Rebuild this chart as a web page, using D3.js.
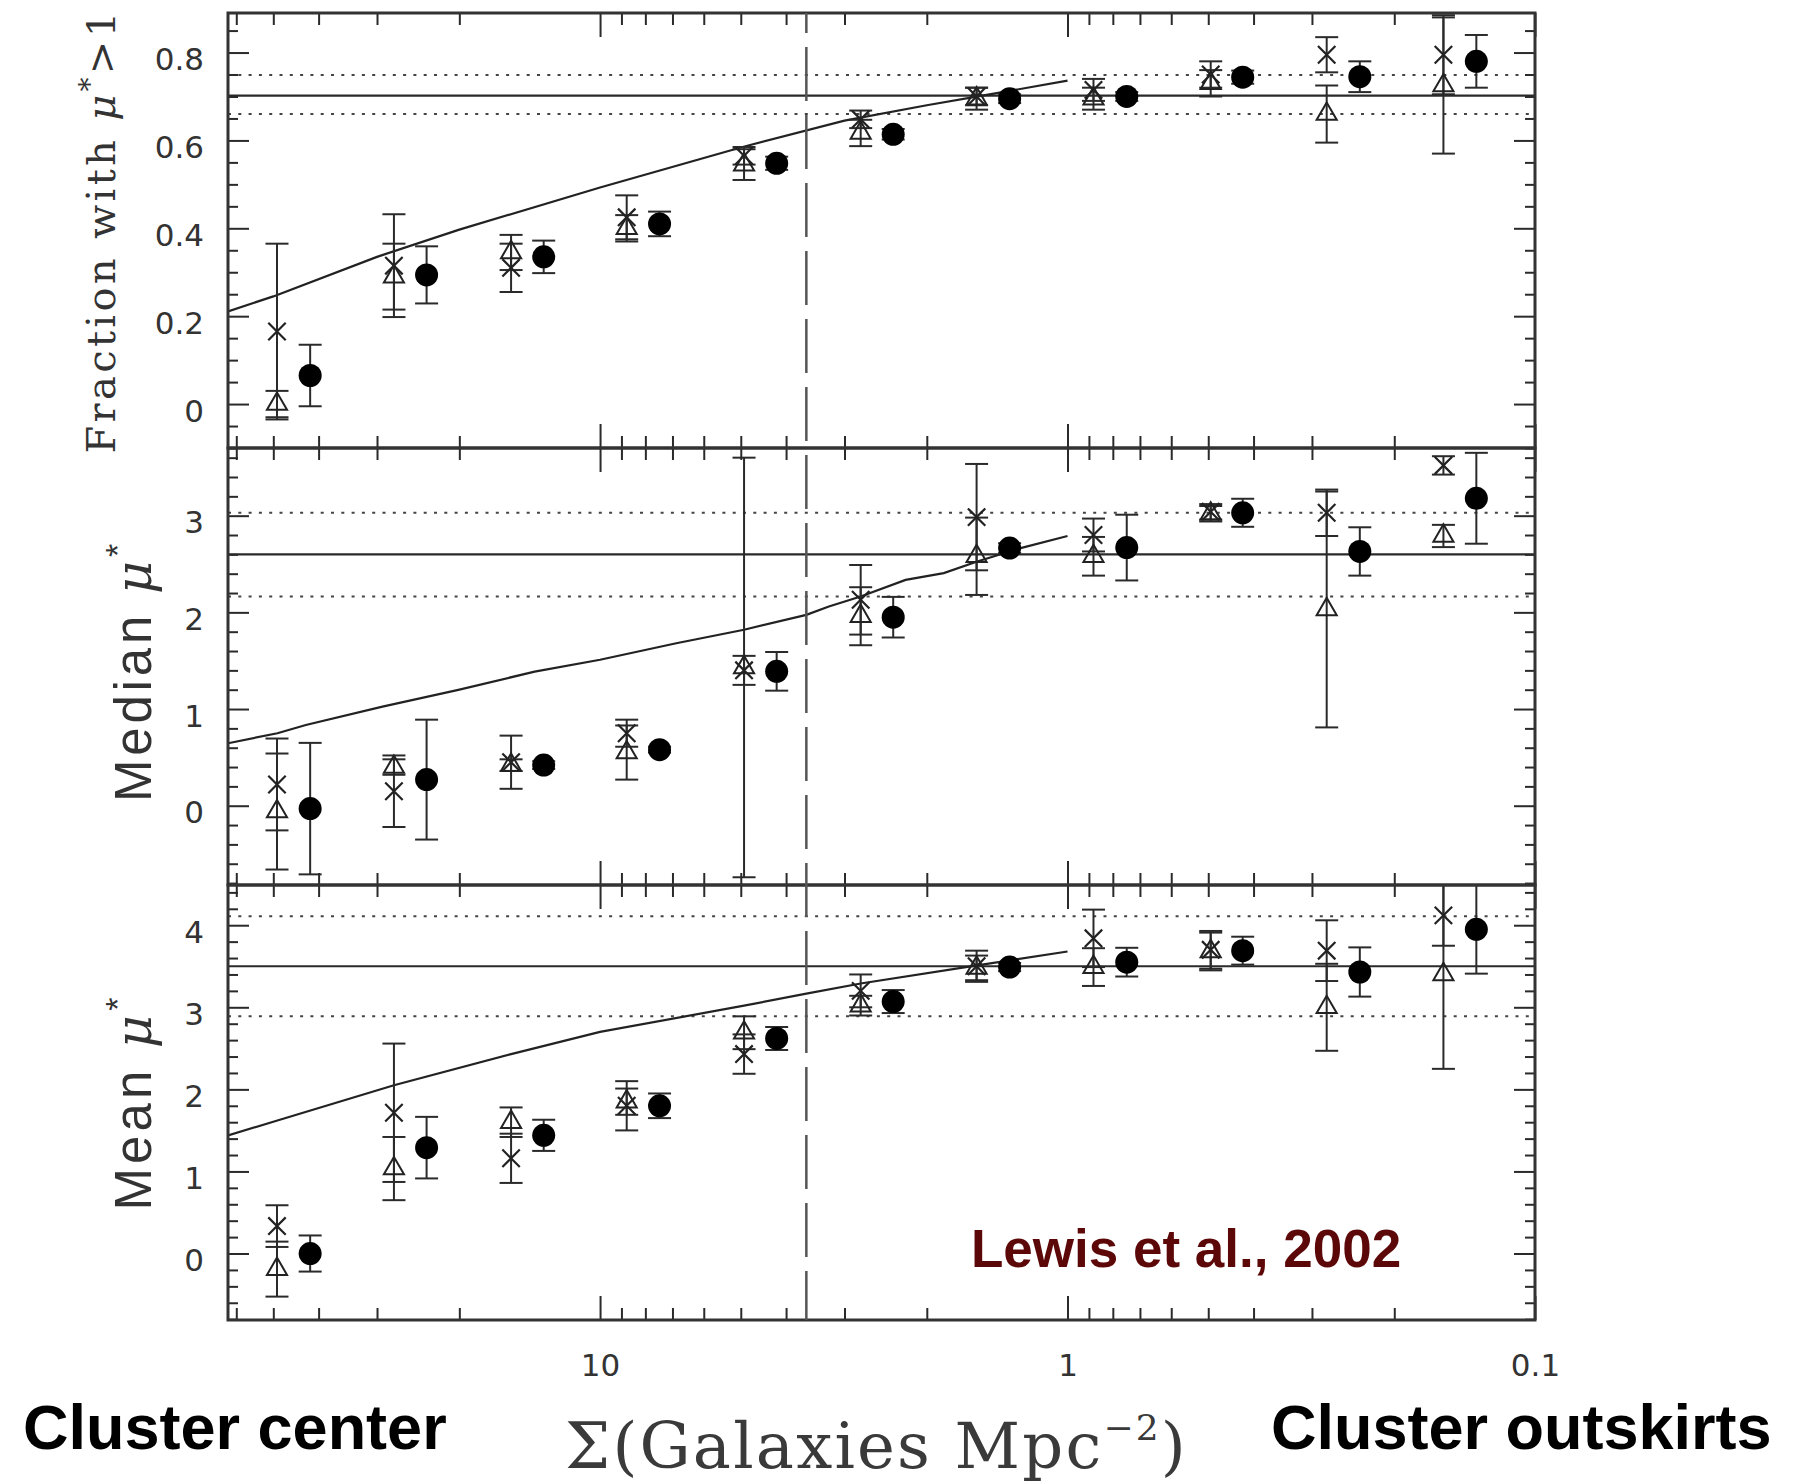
<!DOCTYPE html>
<html>
<head>
<meta charset="utf-8">
<script src="https://cdn.jsdelivr.net/npm/d3@7/dist/d3.min.js"></script>
<style>
  body { margin: 0; background: #fff; }
  svg { display: block; }
</style>
</head>
<body>
<svg id="chart" width="1800" height="1482"></svg>
<script>
// density bins, Sigma (galaxies Mpc^-2). open symbols / filled circles
const sigmaOpen   = [49.1, 27.6, 15.5, 8.77, 4.92, 2.77, 1.565, 0.88, 0.494, 0.279, 0.157];
const sigmaFilled = [41.7, 23.5, 13.2, 7.46, 4.19, 2.36, 1.33, 0.747, 0.422, 0.237, 0.1335];

// fraction with mu* > 1
const fracTri       = [0.0, 0.29, 0.345, 0.40, 0.545, 0.617, 0.695, 0.695, 0.73, 0.66, 0.725];
const fracTriErr    = [0.03, 0.075, 0.04, 0.03, 0.035, 0.03, 0.025, 0.025, 0.03, 0.065, 0.155];
const fracCross     = [0.165, 0.315, 0.31, 0.425, 0.565, 0.648, 0.70, 0.715, 0.75, 0.795, 0.795];
const fracCrossErr  = [0.2, 0.117, 0.055, 0.05, 0.02, 0.02, 0.02, 0.025, 0.03, 0.04, 0.09];
const fracCirc      = [0.065, 0.294, 0.335, 0.41, 0.548, 0.614, 0.695, 0.70, 0.744, 0.745, 0.78];
const fracCircErr   = [0.07, 0.065, 0.037, 0.028, 0.015, 0.012, 0.01, 0.01, 0.015, 0.035, 0.06];
const fracModelSigma = [62.5, 50, 30, 20, 10, 5, 3, 2, 1.5, 1];
const fracModel      = [0.211, 0.245, 0.335, 0.397, 0.493, 0.584, 0.645, 0.680, 0.703, 0.736];
const fracLines = [0.702, 0.749, 0.660];   // field value, upper, lower
const fracTicks = [0, 0.2, 0.4, 0.6, 0.8];

// median mu*
const medTri        = [-0.06, 0.40, 0.42, 0.55, 1.43, 1.96, 2.58, 2.58, 3.02, 2.03, 2.79];
const medTriErr     = [0.6, 0.08, 0.06, 0.28, 2.17, 0.3, 0.4, 0.2, 0.08, 1.22, 0.115];
const medCross      = [0.22, 0.15, 0.45, 0.75, 1.40, 2.13, 2.985, 2.80, 3.04, 3.03, 3.52];
const medCrossErr   = [0.475, 0.37, 0.275, 0.14, 0.15, 0.36, 0.55, 0.17, 0.08, 0.24, 0.095];
const medCirc       = [-0.03, 0.27, 0.42, 0.58, 1.39, 1.95, 2.665, 2.67, 3.03, 2.63, 3.18];
const medCircErr    = [0.68, 0.62, 0.04, 0.03, 0.2, 0.21, 0.05, 0.34, 0.145, 0.25, 0.47];
const medModelSigma = [62.5, 49, 42.6, 29.2, 20.1, 13.8, 10, 6.87, 4.92, 3.62, 3.24, 2.77, 2.22, 1.84, 1.56, 1.26, 1.0];
const medModel      = [0.646, 0.75, 0.835, 1.025, 1.198, 1.387, 1.51, 1.68, 1.82, 1.974, 2.06, 2.164, 2.336, 2.406, 2.526, 2.665, 2.79];
const medLines = [2.60, 3.03, 2.165];
const medTicks = [0, 1, 2, 3];

// mean mu*
const meanTri       = [-0.19, 1.035, 1.60, 1.85, 2.69, 3.02, 3.48, 3.49, 3.68, 3.0, 3.40];
const meanTriErr    = [0.335, 0.385, 0.18, 0.16, 0.2, 0.12, 0.15, 0.23, 0.23, 0.53, 1.15];
const meanCross     = [0.334, 1.715, 1.16, 1.80, 2.43, 3.20, 3.50, 3.84, 3.70, 3.69, 4.12];
const meanCrossErr  = [0.254, 0.843, 0.3, 0.3, 0.24, 0.2, 0.19, 0.35, 0.23, 0.37, 0.37];
const meanCirc      = [0.0, 1.29, 1.44, 1.80, 2.62, 3.07, 3.49, 3.55, 3.69, 3.43, 3.95];
const meanCircErr   = [0.22, 0.375, 0.19, 0.15, 0.14, 0.14, 0.05, 0.175, 0.17, 0.3, 0.54];
const meanModelSigma = [62.5, 49, 27.6, 15.5, 10, 4.92, 3.62, 2.77, 1.56, 1.0];
const meanModel      = [1.44, 1.62, 2.05, 2.43, 2.70, 3.02, 3.167, 3.29, 3.51, 3.68];
const meanLines = [3.50, 4.11, 2.89];
const meanTicks = [0, 1, 2, 3, 4];

const xTickLabels = [10, 1, 0.1];
const sigmaBreak = 3.62;

const panels = [
  { domain: [-0.1, 0.89], ticks: fracTicks, tri: fracTri, triErr: fracTriErr, cross: fracCross, crossErr: fracCrossErr,
    circ: fracCirc, circErr: fracCircErr, modelX: fracModelSigma, model: fracModel, lines: fracLines },
  { domain: [-0.82, 3.70], ticks: medTicks, tri: medTri, triErr: medTriErr, cross: medCross, crossErr: medCrossErr,
    circ: medCirc, circErr: medCircErr, modelX: medModelSigma, model: medModel, lines: medLines },
  { domain: [-0.81, 4.49], ticks: meanTicks, tri: meanTri, triErr: meanTriErr, cross: meanCross, crossErr: meanCrossErr,
    circ: meanCirc, circErr: meanCircErr, modelX: meanModelSigma, model: meanModel, lines: meanLines }
];

const left = 228, right = 1535;
const bands = [[13, 448], [448, 885], [885, 1320]];
const ink = '#2a2a2a';
const capW = 11.5;

const svg = d3.select('#chart');
const x = d3.scaleLog().domain([62.5, 0.1]).range([left, right]);
const xMajor = xTickLabels;
const xMinor = x.ticks().filter(v => !xMajor.some(m => Math.abs(m - v) < 1e-9));

function styleAxis(sel) {
  sel.select('.domain').remove();
  sel.selectAll('.tick line').attr('stroke', ink).attr('stroke-width', 2);
  sel.selectAll('.tick text')
    .attr('fill', '#333')
    .style('font-family', 'DejaVu Sans, sans-serif')
    .style('font-size', '31px');
}

panels.forEach((p, i) => {
  const [top, bottom] = bands[i];
  const y = d3.scaleLinear().domain(p.domain).range([bottom, top]);
  const g = svg.append('g');

  const clipId = 'clip' + i;
  svg.append('clipPath').attr('id', clipId)
    .append('rect').attr('x', left).attr('y', top).attr('width', right - left).attr('height', bottom - top);
  const inner = g.append('g').attr('clip-path', `url(#${clipId})`);

  // field reference levels
  inner.append('line')
    .attr('x1', left).attr('x2', right).attr('y1', y(p.lines[0])).attr('y2', y(p.lines[0]))
    .attr('stroke', ink).attr('stroke-width', 2.2);
  p.lines.slice(1).forEach(v => {
    inner.append('line')
      .attr('x1', left).attr('x2', right).attr('y1', y(v)).attr('y2', y(v))
      .attr('stroke', '#444').attr('stroke-width', 2).attr('stroke-dasharray', '3,7.3');
  });

  // model curve
  const line = d3.line().x(d => x(d[0])).y(d => y(d[1]));
  inner.append('path')
    .datum(d3.zip(p.modelX, p.model))
    .attr('d', line)
    .attr('fill', 'none').attr('stroke', '#222').attr('stroke-width', 2.2);

  // error bars
  function errorBars(xs, vals, errs) {
    const eb = inner.append('g').attr('stroke', ink).attr('stroke-width', 2);
    const rows = eb.selectAll('g').data(d3.zip(xs, vals, errs)).join('g');
    rows.append('line')
      .attr('x1', d => x(d[0])).attr('x2', d => x(d[0]))
      .attr('y1', d => y(d[1] - d[2])).attr('y2', d => y(d[1] + d[2]));
    rows.append('line')
      .attr('x1', d => x(d[0]) - capW).attr('x2', d => x(d[0]) + capW)
      .attr('y1', d => y(d[1] - d[2])).attr('y2', d => y(d[1] - d[2]));
    rows.append('line')
      .attr('x1', d => x(d[0]) - capW).attr('x2', d => x(d[0]) + capW)
      .attr('y1', d => y(d[1] + d[2])).attr('y2', d => y(d[1] + d[2]));
  }
  errorBars(sigmaOpen, p.tri, p.triErr);
  errorBars(sigmaOpen, p.cross, p.crossErr);
  errorBars(sigmaFilled, p.circ, p.circErr);

  // markers
  inner.append('g').selectAll('path').data(d3.zip(sigmaOpen, p.tri)).join('path')
    .attr('d', d3.symbol(d3.symbolTriangle, 175))
    .attr('transform', d => `translate(${x(d[0])},${y(d[1])})`)
    .attr('fill', 'none').attr('stroke', '#222').attr('stroke-width', 2);
  inner.append('g').selectAll('path').data(d3.zip(sigmaOpen, p.cross)).join('path')
    .attr('d', d3.symbol(d3.symbolTimes, 200))
    .attr('transform', d => `translate(${x(d[0])},${y(d[1])})`)
    .attr('fill', 'none').attr('stroke', '#222').attr('stroke-width', 2.2);
  inner.append('g').selectAll('circle').data(d3.zip(sigmaFilled, p.circ)).join('circle')
    .attr('cx', d => x(d[0])).attr('cy', d => y(d[1])).attr('r', 11.5)
    .attr('fill', '#000');

  // y axes, ticks inward on both sides
  const yMinor = y.ticks(20).filter(v => !p.ticks.some(m => Math.abs(m - v) < 1e-9));
  g.append('g').attr('transform', `translate(${left},0)`)
    .call(d3.axisLeft(y).tickValues(p.ticks).tickSize(-21).tickPadding(24).tickFormat(d => String(d)))
    .call(styleAxis)
    .selectAll('.tick text').attr('dy', '0.55em');
  g.append('g').attr('transform', `translate(${left},0)`)
    .call(d3.axisLeft(y).tickValues(yMinor).tickSize(-10).tickFormat(''))
    .call(styleAxis);
  g.append('g').attr('transform', `translate(${right},0)`)
    .call(d3.axisRight(y).tickValues(p.ticks).tickSize(-21).tickFormat(''))
    .call(styleAxis);
  g.append('g').attr('transform', `translate(${right},0)`)
    .call(d3.axisRight(y).tickValues(yMinor).tickSize(-10).tickFormat(''))
    .call(styleAxis);

  // x axes on top and bottom of every panel
  g.append('g').attr('transform', `translate(0,${top})`)
    .call(d3.axisTop(x).tickValues(xMajor).tickSize(-24).tickFormat(''))
    .call(styleAxis);
  g.append('g').attr('transform', `translate(0,${top})`)
    .call(d3.axisTop(x).tickValues(xMinor).tickSize(-12).tickFormat(''))
    .call(styleAxis);
  const last = i === panels.length - 1;
  g.append('g').attr('transform', `translate(0,${bottom})`)
    .call(d3.axisBottom(x).tickValues(xMajor).tickSize(-24).tickPadding(34)
      .tickFormat(last ? (d => String(d)) : ''))
    .call(styleAxis);
  g.append('g').attr('transform', `translate(0,${bottom})`)
    .call(d3.axisBottom(x).tickValues(xMinor).tickSize(-12).tickFormat(''))
    .call(styleAxis);

  g.append('rect')
    .attr('x', left).attr('y', top).attr('width', right - left).attr('height', bottom - top)
    .attr('fill', 'none').attr('stroke', '#333').attr('stroke-width', 3);
});

// long-dashed line marking the density break
svg.append('line')
  .attr('x1', x(sigmaBreak)).attr('x2', x(sigmaBreak))
  .attr('y1', bands[0][0]).attr('y2', bands[2][1])
  .attr('stroke', '#555').attr('stroke-width', 2.5)
  .attr('stroke-dasharray', '54,14').attr('stroke-dashoffset', 34);

// stretch a text element's letter spacing so it spans the wanted length
function fitText(sel, target) {
  const node = sel.node();
  const len = node.getComputedTextLength();
  const n = node.textContent.length;
  sel.style('letter-spacing', ((target - len) / n) + 'px');
}

// y labels
const fl = svg.append('text')
  .attr('transform', 'translate(115,231) rotate(-90)')
  .attr('text-anchor', 'middle')
  .attr('fill', '#333')
  .style('font-family', 'DejaVu Serif, serif')
  .style('font-size', '40px');
fl.append('tspan').text('Fraction with ');
fl.append('tspan').style('font-style', 'italic').text('μ');
fl.append('tspan').attr('dy', -16).style('font-size', '28px').text('*');
fl.append('tspan').attr('dy', 16).text('>1');
fitText(fl, 445);

function muLabel(word, cy, target) {
  const t = svg.append('text')
    .attr('transform', `translate(151,${cy}) rotate(-90)`)
    .attr('text-anchor', 'middle')
    .attr('fill', '#333')
    .style('font-family', 'Liberation Sans, Arial, sans-serif')
    .style('font-size', '51px');
  t.append('tspan').text(word + ' ');
  t.append('tspan').style('font-family', 'DejaVu Serif, serif').style('font-style', 'italic').text('μ');
  t.append('tspan').attr('dy', -22).style('font-size', '34px').text('*');
  fitText(t, target);
  return t;
}
muLabel('Median', 671, 262);
muLabel('Mean', 1102, 217);

// x label
const xl = svg.append('text')
  .attr('x', 565).attr('y', 1468)
  .attr('fill', '#3a3a3a')
  .style('font-family', 'DejaVu Serif, serif')
  .style('font-size', '64px');
xl.append('tspan').text('Σ(Galaxies Mpc');
xl.append('tspan').attr('dy', -28).style('font-size', '36px').text('−2');
xl.append('tspan').attr('dy', 28).text(')');
fitText(xl, 623);

// annotations
svg.append('text')
  .attr('x', 23).attr('y', 1449)
  .style('font-family', 'Liberation Sans, Arial, sans-serif')
  .style('font-weight', 'bold').style('font-size', '63px')
  .attr('fill', '#000')
  .text('Cluster center');
svg.append('text')
  .attr('x', 1271).attr('y', 1449)
  .style('font-family', 'Liberation Sans, Arial, sans-serif')
  .style('font-weight', 'bold').style('font-size', '63px')
  .attr('fill', '#000')
  .text('Cluster outskirts');
svg.append('text')
  .attr('x', 971).attr('y', 1267)
  .style('font-family', 'Liberation Sans, Arial, sans-serif')
  .style('font-weight', 'bold').style('font-size', '53px')
  .attr('fill', '#5c0808')
  .text('Lewis et al., 2002');
</script>
</body>
</html>
